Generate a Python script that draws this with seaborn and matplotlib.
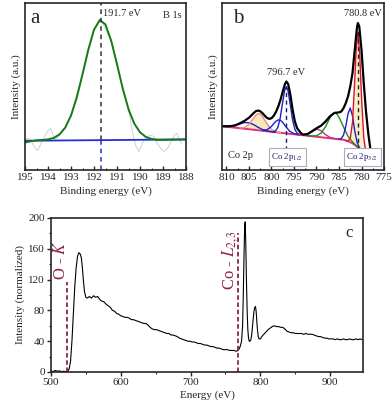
import matplotlib
matplotlib.use("Agg")
import matplotlib.pyplot as plt
from matplotlib.ticker import MultipleLocator
import seaborn as sns

# ---- panel a : B 1s ----
a_raw_x = [195, 194.9, 194.75, 194.6, 194.45, 194.3, 194.15, 194.0, 193.9, 193.8, 193.7, 193.55,
           193.4, 193.25, 193.0, 192.5, 192.0, 191.7, 191.25, 191.0, 190.75, 190.5, 190.35, 190.2,
           190.05, 189.9, 189.75, 189.55, 189.4, 189.25, 189.1, 188.95, 188.8, 188.65, 188.5, 188.4,
           188.3, 188.2]
a_raw_y = [0.17, 0.19, 0.18, 0.14, 0.115, 0.16, 0.20, 0.235, 0.25, 0.22, 0.18, 0.20,
           0.23, 0.25, 0.33, 0.57, 0.84, 0.90, 0.77, 0.63, 0.49, 0.37, 0.24, 0.15,
           0.11, 0.16, 0.19, 0.21, 0.20, 0.16, 0.13, 0.11, 0.13, 0.17, 0.21, 0.22,
           0.19, 0.16]
a_fit_x = [195, 194.75, 194.5, 194.25, 194, 193.75, 193.5, 193.25, 193, 192.75, 192.5, 192.25,
           192, 191.75, 191.5, 191.25, 191, 190.75, 190.5, 190.25, 190, 189.75, 189.5, 189.25,
           189, 188.5, 188]
a_fit_y = [0.165, 0.172, 0.178, 0.180, 0.183, 0.192, 0.213, 0.254, 0.326, 0.434, 0.573, 0.720,
           0.840, 0.898, 0.871, 0.773, 0.633, 0.487, 0.364, 0.278, 0.226, 0.198, 0.186, 0.181,
           0.181, 0.182, 0.183]
a_base_x = [195, 188]
a_base_y = [0.175, 0.183]
a_peak = 191.7

# ---- panel b : Co 2p ----
b_env_x = [811, 810, 809, 808, 807, 806, 805, 804, 803.5, 803, 802.5, 802, 801.5, 801, 800.5, 800,
           799.5, 799, 798.5, 798, 797.5, 797, 796.7, 796.3, 795.8, 795.3, 794.8, 794.3, 793.5, 793,
           792, 791, 790, 789, 788, 787, 786, 785, 784.5, 784, 783.5, 783, 782.5, 782, 781.5, 781,
           780.8, 780.5, 780, 779.5, 779, 778.5, 778, 777.5]
b_env_y = [0.262, 0.262, 0.263, 0.268, 0.280, 0.294, 0.313, 0.340, 0.352, 0.356, 0.352, 0.340,
           0.325, 0.312, 0.306, 0.310, 0.325, 0.348, 0.380, 0.420, 0.470, 0.515, 0.530, 0.515,
           0.450, 0.360, 0.290, 0.250, 0.222, 0.212, 0.215, 0.232, 0.250, 0.265, 0.290, 0.322,
           0.342, 0.345, 0.350, 0.370, 0.400, 0.440, 0.500, 0.580, 0.720, 0.855, 0.880, 0.860,
           0.720, 0.520, 0.350, 0.220, 0.120, 0.040]
b_bg_x = [811, 806, 802, 798, 794, 790, 786, 784, 783, 782, 781]
b_bg_y = [0.262, 0.247, 0.235, 0.223, 0.211, 0.199, 0.187, 0.181, 0.172, 0.160, 0.140]

b_c1_x = [811, 810, 809, 808, 807, 806, 805, 804, 803, 802, 801, 800, 799]
b_c1_y = [0.262, 0.260, 0.261, 0.266, 0.276, 0.284, 0.283, 0.272, 0.256, 0.242, 0.234, 0.229, 0.226]
b_c2_x = [807, 806, 805, 804, 803.5, 803, 802.5, 802, 801.5, 801, 800, 799, 798]
b_c2_y = [0.251, 0.254, 0.273, 0.310, 0.328, 0.337, 0.335, 0.320, 0.299, 0.276, 0.243, 0.229, 0.223]
b_c2_bg = [0.250, 0.247, 0.244, 0.241, 0.2395, 0.238, 0.2365, 0.235, 0.2335, 0.232, 0.229, 0.226, 0.223]
b_c3_x = [802, 801, 800, 799.5, 799, 798.5, 798, 797.5, 797, 796, 795, 794]
b_c3_y = [0.236, 0.241, 0.261, 0.278, 0.292, 0.300, 0.297, 0.285, 0.266, 0.233, 0.217, 0.211]
b_c4_x = [799.6, 799.1, 798.6, 798.1, 797.6, 797.1, 796.7, 796.3, 795.8, 795.3, 794.8, 794.3, 793.6]
b_c4_y = [0.229, 0.234, 0.255, 0.306, 0.392, 0.474, 0.499, 0.472, 0.386, 0.298, 0.243, 0.220, 0.210]
b_c5_x = [794, 793, 792, 791, 790.5, 790, 789.5, 789, 788, 787, 786, 785]
b_c5_y = [0.211, 0.210, 0.214, 0.229, 0.238, 0.243, 0.242, 0.235, 0.212, 0.195, 0.188, 0.184]
b_c6_x = [792, 791, 790, 789, 788, 787, 786.5, 786, 785.5, 785, 784, 783, 782, 781, 780, 779]
b_c6_y = [0.205, 0.203, 0.205, 0.220, 0.259, 0.313, 0.333, 0.342, 0.336, 0.316, 0.258, 0.202,
          0.168, 0.141, 0.115, 0.085]
b_c7_x = [785, 784.5, 784, 783.5, 783, 782.5, 782, 781.5, 781, 780.5, 780, 779.5]
b_c7_y = [0.185, 0.188, 0.209, 0.260, 0.336, 0.371, 0.324, 0.234, 0.168, 0.134, 0.116, 0.100]
b_c8_x = [783.5, 783, 782.5, 782, 781.5, 781.2, 780.8, 780.4, 780, 779.5, 779, 778.5, 778]
b_c8_y = [0.176, 0.174, 0.189, 0.286, 0.536, 0.715, 0.825, 0.696, 0.439, 0.193, 0.100, 0.071, 0.055]
b_c8_bg = [0.176, 0.172, 0.166, 0.160, 0.150, 0.144, 0.135, 0.125, 0.115, 0.100, 0.085, 0.070, 0.055]
b_peaks = [796.7, 780.8]

# ---- panel c : EELS ----
c_energy = [500, 503, 506, 509, 512, 515, 518, 521, 524, 526, 528, 530, 532, 534, 536, 538, 540,
            542, 543.5, 545, 546.5, 548, 550, 552, 555, 558, 561, 564, 567, 570, 573, 576, 579,
            582, 585, 588, 591, 594, 597, 600, 603, 606, 609, 612, 615, 618, 621, 624, 627, 630,
            633, 636, 639, 642, 645, 648, 651, 654, 657, 660, 663, 666, 669, 672, 675, 678, 681,
            684, 687, 690, 693, 696, 699, 702, 705, 708, 711, 714, 717, 720, 723, 726, 729, 732,
            735, 738, 741, 744, 747, 750, 753, 756, 759, 762, 765, 767, 769, 771, 773, 774.5,
            775.5, 776.5, 777.5, 778.2, 779, 780, 781, 782, 783, 784, 785, 786, 787, 788, 789,
            790, 791, 792, 793, 794, 795, 796, 797, 798, 800, 802, 805, 808, 811, 814, 817, 820,
            823, 826, 829, 832, 835, 838, 841, 844, 847, 850, 853, 856, 859, 862, 865, 868, 871,
            874, 877, 880, 883, 886, 889, 892, 895, 898, 901, 904, 907, 910, 913, 916, 919, 922,
            925, 928, 931, 934, 937, 940, 943, 946]
c_intensity = [1.5, 0.5, 2, 1, 1.5, 0.5, 1, 0.5, 1, 4, 14, 40, 75, 110, 135, 150, 155,
               153, 148, 135, 118, 104, 97, 96, 98, 96, 99, 97, 98, 94, 92, 91, 88,
               86, 84, 80, 79, 76, 75, 73, 72, 71, 71, 70, 68, 68, 67, 66, 65, 64,
               63, 63, 61, 58, 56, 55, 55, 54, 53, 52, 51, 50, 50, 48, 48, 47, 46,
               44, 43, 42, 41, 40, 40, 39, 39, 38, 37, 37, 36, 35, 35, 34, 33, 33,
               32, 31, 31, 30, 29, 29, 29, 28, 28, 28, 27, 27.5, 29, 33, 40, 60,
               100, 150, 190, 195, 170, 120, 80, 55, 44, 40, 40, 41, 45, 52, 62,
               72, 80, 84, 85, 78, 64, 53, 46, 43, 43, 46, 49, 52, 55, 57, 59, 60,
               59, 59, 58, 58, 56, 53, 52, 51, 51, 50, 50, 50, 50, 49, 50, 49, 49,
               49, 48, 47, 46, 46, 45, 44, 44, 43, 43, 43, 42, 43, 42, 42, 43, 42,
               42, 43, 42, 42, 43, 42, 43, 42]
c_edges = [523, 768]
c_edge_tops = [117, 181]

sns.set_style("ticks")
plt.rcParams['font.family'] = ['Liberation Serif', 'DejaVu Serif']
plt.rcParams['mathtext.fontset'] = 'stix'

fig = plt.figure(figsize=(3.92, 4.11), dpi=100)
ax_a = fig.add_axes([0.0638, 0.5864, 0.4107, 0.4063])
ax_b = fig.add_axes([0.5663, 0.5864, 0.4133, 0.4063])
ax_c = fig.add_axes([0.1301, 0.0949, 0.7959, 0.3747])

navy = '#1a1a70'

# panel a
sns.lineplot(x=a_raw_x, y=a_raw_y, ax=ax_a, color='#c9d2d8', lw=0.7, estimator=None, sort=False)
sns.lineplot(x=a_base_x, y=a_base_y, ax=ax_a, color='#2030d0', lw=1.3, estimator=None)
sns.lineplot(x=a_fit_x, y=a_fit_y, ax=ax_a, color='#157a15', lw=1.4, estimator=None)
ax_a.vlines(a_peak, 0.178, 1.0, colors='#333333', linestyles=(0, (3, 2.5)), lw=1.1)
ax_a.vlines(a_peak, 0.0, 0.178, colors='#2030d0', linestyles=(0, (3, 2.5)), lw=1.1)
ax_a.set_xlim(195, 188)
ax_a.set_ylim(0, 1)
ax_a.xaxis.set_major_locator(MultipleLocator(1))
ax_a.xaxis.set_minor_locator(MultipleLocator(0.5))
ax_a.set_yticks([])
ax_a.set_xlabel('Binding energy (eV)', fontsize=8, labelpad=3)
ax_a.set_ylabel('Intensity (a.u.)', fontsize=8, labelpad=3)
ax_a.text(194.55, 0.91, 'a', fontsize=15, ha='center', va='center')
ax_a.text(191.62, 0.94, '191.7 eV', fontsize=7.5, ha='left', va='center')
ax_a.text(188.6, 0.925, 'B 1s', fontsize=7.5, ha='center', va='center')

# panel b
ax_b.fill_between(b_c2_x, b_c2_bg, b_c2_y, color='#f7e9b8', lw=0)
ax_b.fill_between(b_c8_x, b_c8_bg, b_c8_y, color='#f8efc8', lw=0)
sns.lineplot(x=b_bg_x, y=b_bg_y, ax=ax_b, color='#e8307a', lw=1.4, estimator=None)
sns.lineplot(x=b_c1_x, y=b_c1_y, ax=ax_b, color='#2020c8', lw=1.0, estimator=None)
sns.lineplot(x=b_c2_x, y=b_c2_y, ax=ax_b, color='#f08a8a', lw=1.0, estimator=None)
sns.lineplot(x=b_c3_x, y=b_c3_y, ax=ax_b, color='#2020c8', lw=1.0, estimator=None)
sns.lineplot(x=b_c4_x, y=b_c4_y, ax=ax_b, color='#2020c8', lw=1.0, estimator=None)
sns.lineplot(x=b_c5_x, y=b_c5_y, ax=ax_b, color='#c0308a', lw=1.0, estimator=None)
sns.lineplot(x=b_c6_x, y=b_c6_y, ax=ax_b, color='#1a901a', lw=1.0, estimator=None)
sns.lineplot(x=b_c7_x, y=b_c7_y, ax=ax_b, color='#2020c8', lw=1.0, estimator=None)
sns.lineplot(x=b_c8_x, y=b_c8_y, ax=ax_b, color='#e01030', lw=1.0, estimator=None)
sns.lineplot(x=b_env_x, y=b_env_y, ax=ax_b, color='black', lw=1.6, estimator=None)
ax_b.vlines(b_peaks[0], 0.12, 0.50, colors=navy, linestyles=(0, (3, 2.5)), lw=1.0)
ax_b.vlines(b_peaks[1], 0.12, 0.85, colors='#222222', linestyles=(0, (3, 2.5)), lw=1.0)
ax_b.set_xlim(811, 775)
ax_b.set_ylim(0, 1)
ax_b.xaxis.set_major_locator(MultipleLocator(5))
ax_b.xaxis.set_minor_locator(MultipleLocator(2.5))
ax_b.set_yticks([])
ax_b.set_xlabel('Binding energy (eV)', fontsize=8, labelpad=3)
ax_b.set_ylabel('Intensity (a.u.)', fontsize=8, labelpad=3)
ax_b.text(807.4, 0.91, 'b', fontsize=15, ha='center', va='center')
ax_b.text(b_peaks[0], 0.585, '796.7 eV', fontsize=7.5, ha='center', va='center')
ax_b.text(779.6, 0.935, '780.8 eV', fontsize=7.5, ha='center', va='center')
ax_b.text(807.0, 0.085, 'Co 2p', fontsize=7.5, ha='center', va='center')
box = dict(boxstyle='square,pad=0.3', fc='white', ec='#a8acc4', lw=0.8)
ax_b.text(796.5, 0.078, 'Co 2p$_{1/2}$', fontsize=6.5, color=navy,
          ha='center', va='center', bbox=box)
ax_b.text(779.8, 0.078, 'Co 2p$_{3/2}$', fontsize=6.5, color=navy,
          ha='center', va='center', bbox=box)

# panel c
sns.lineplot(x=c_energy, y=c_intensity, ax=ax_c, color='black', lw=0.8, estimator=None)
maroon = '#8e2448'
ax_c.vlines(c_edges, 0, c_edge_tops, colors=maroon, linestyles=(0, (2.5, 1.5)), lw=1.3)
ax_c.text(514, 145, 'O - $\\mathit{K}$', fontsize=12, color=maroon, rotation=90,
          ha='center', va='center')
ax_c.text(757, 145, 'Co - $\\mathit{L}_{2,3}$', fontsize=12, color=maroon, rotation=90,
          ha='center', va='center')
ax_c.text(927, 180, 'c', fontsize=12, ha='center', va='center')
ax_c.set_xlim(500, 947)
ax_c.set_ylim(0, 200)
ax_c.xaxis.set_major_locator(MultipleLocator(100))
ax_c.xaxis.set_minor_locator(MultipleLocator(50))
ax_c.yaxis.set_major_locator(MultipleLocator(40))
ax_c.yaxis.set_minor_locator(MultipleLocator(20))
ax_c.set_xlabel('Energy (eV)', fontsize=8, labelpad=2)
ax_c.set_ylabel('Intensity (normalized)', fontsize=8, labelpad=2)

for ax in (ax_a, ax_b, ax_c):
    for s in ax.spines.values():
        s.set_visible(True)
        s.set_linewidth(1.2)
    ax.tick_params(which='both', labelsize=8, top=False, right=False)
    ax.tick_params(which='major', length=3, width=1)
    ax.tick_params(which='minor', length=1.5, width=0.8)

for ax in (ax_a, ax_b):
    ax.tick_params(which='both', direction='in')
    ax.tick_params(axis='x', pad=2)
ax_c.tick_params(which='both', direction='out')
ax_c.tick_params(axis='x', pad=1.5)
ax_c.tick_params(axis='y', pad=1.5)

fig.savefig('out.png', dpi=100)
